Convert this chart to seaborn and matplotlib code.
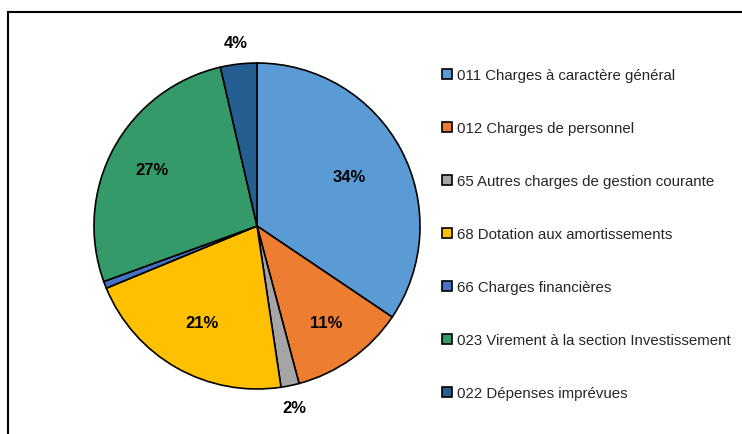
import matplotlib
matplotlib.use("Agg")
import matplotlib.pyplot as plt
import matplotlib.patches as mpatches
import numpy as np
import seaborn as sns

# Répartition des dépenses de fonctionnement
postes = [
    "011 Charges à caractère général",
    "012 Charges de personnel",
    "65 Autres charges de gestion courante",
    "68 Dotation aux amortissements",
    "66 Charges financières",
    "023 Virement à la section Investissement",
    "022 Dépenses imprévues",
]
parts = [34.4, 11.4, 1.8, 21.1, 0.7, 26.9, 3.6]
etiquettes = ["34%", "11%", "2%", "21%", "", "27%", "4%"]

couleurs = ["#5B9BD5", "#ED7D31", "#A5A5A5", "#FFC000", "#4472C4", "#359A69", "#255E91"]
# distance des étiquettes au centre (fraction du rayon)
dist_etiq = [0.64, 0.73, 1.14, 0.68, 0.7, 0.73, 1.13]

sns.set_theme(style="white")
plt.rcParams["font.family"] = ["Liberation Sans Narrow", "Liberation Sans", "DejaVu Sans"]
palette = sns.color_palette(couleurs)

fig = plt.figure(figsize=(7.42, 4.35), dpi=100)
ax = fig.add_axes([0, 0, 1, 1])

centre = (257, 435 - 227)
rayon = 163
wedges, _ = ax.pie(parts, colors=palette, startangle=90, counterclock=False,
                   center=centre, radius=rayon,
                   wedgeprops=dict(edgecolor="black", linewidth=1.2))
ax.set_xlim(0, 742)
ax.set_ylim(0, 435)
ax.set_aspect("equal")
ax.axis("off")

for w, txt, d in zip(wedges, etiquettes, dist_etiq):
    if not txt:
        continue
    ang = np.deg2rad((w.theta1 + w.theta2) / 2)
    x = centre[0] + d * rayon * np.cos(ang)
    y = centre[1] + d * rayon * np.sin(ang)
    ax.text(x, y, txt, ha="center", va="center", fontsize=12,
            fontweight="bold", color="black")

handles = [mpatches.Patch(facecolor=c, edgecolor="black", linewidth=1.2) for c in palette]
ax.legend(handles, postes, loc="upper left", bbox_to_anchor=(442 / 742, 1 - 69 / 435),
          frameon=False, fontsize=10.8, handlelength=0.65, handleheight=0.65,
          handletextpad=0.35, labelspacing=2.6, borderaxespad=0, borderpad=0)

# cadre du graphique (coupé à droite et en bas)
fig.patches.append(mpatches.Rectangle((8 / 742, -0.1), 2, 1.1 - 13 / 435,
                                      transform=fig.transFigure, fill=False,
                                      edgecolor="black", linewidth=1.5))

fig.savefig("out.png", dpi=100)
